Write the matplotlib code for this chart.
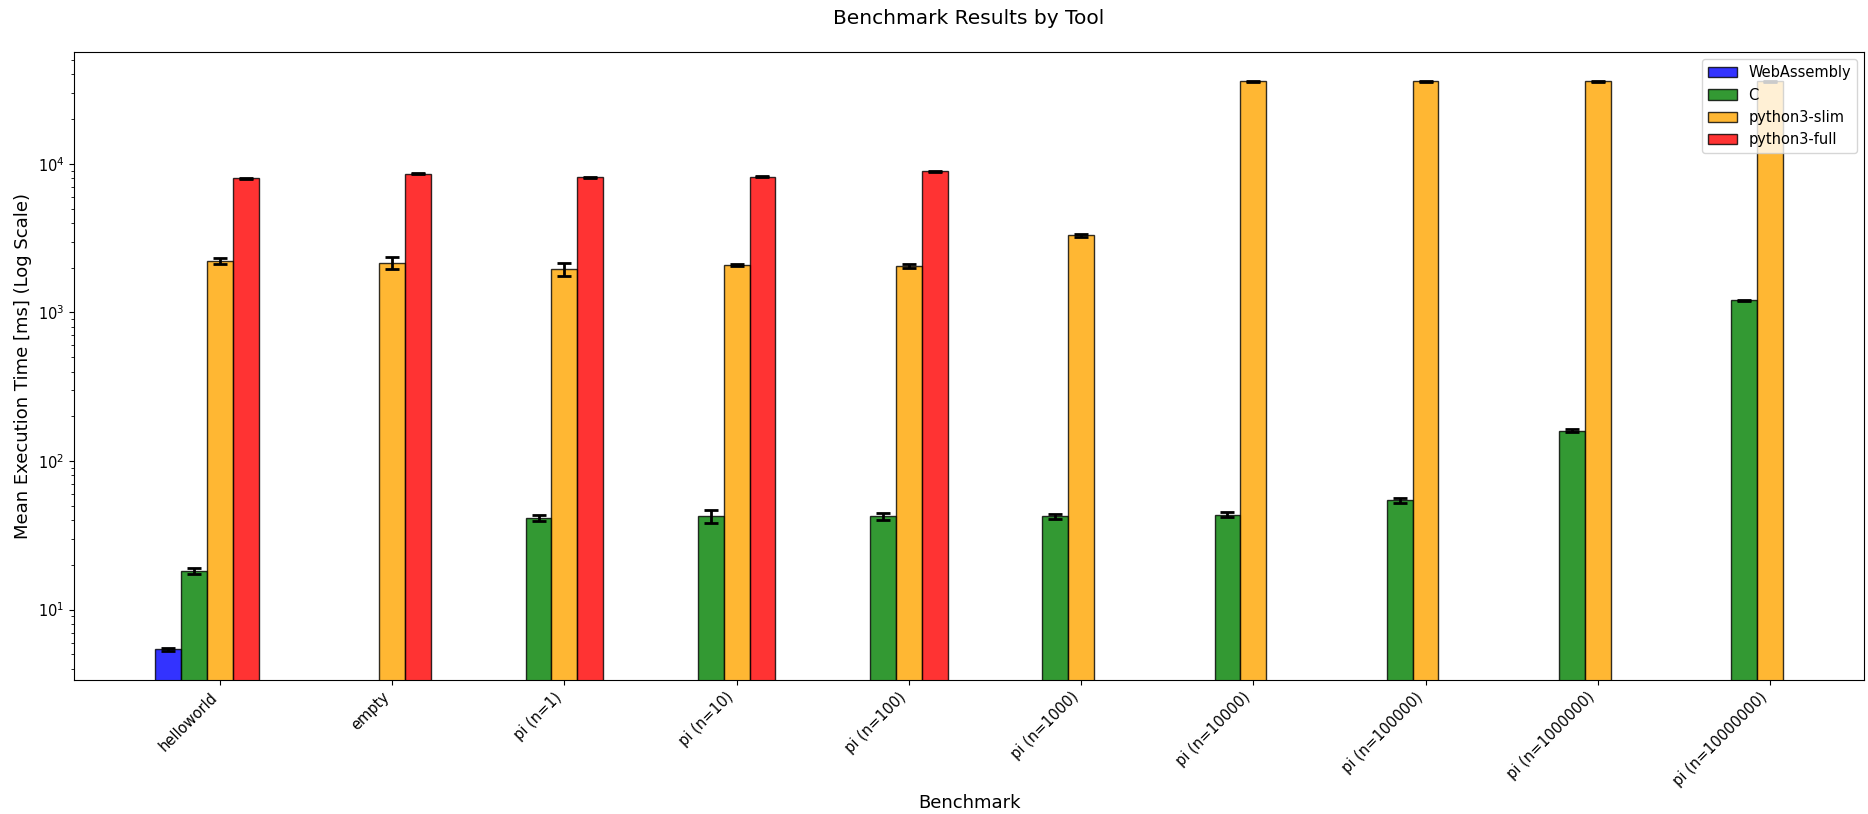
import numpy as np
import matplotlib.pyplot as plt

nan = np.nan

benchmarks = ['helloworld', 'empty', 'pi (n=1)', 'pi (n=10)', 'pi (n=100)',
              'pi (n=1000)', 'pi (n=10000)', 'pi (n=100000)', 'pi (n=1000000)',
              'pi (n=10000000)']
tools = ['WebAssembly', 'C', 'python3-slim', 'python3-full']
colors = ['blue', 'green', 'orange', 'red']

# mean execution time [ms] per tool, NaN where the tool has no run
wasm_mean = [5.4, nan, nan, nan, nan, nan, nan, nan, nan, nan]
c_mean = [18.2, nan, 41.5, 42.5, 42.5, 42.5, 43.5, 54.5, 160, 1210]
slim_mean = [2220, 2150, 1960, 2080, 2060, 3300, 36000, 36000, 36000, 36000]
full_mean = [8000, 8600, 8100, 8200, 8900, nan, nan, nan, nan, nan]

wasm_std = [0.15, nan, nan, nan, nan, nan, nan, nan, nan, nan]
c_std = [0.9, nan, 1.8, 4.5, 2.2, 1.8, 1.8, 2.2, 3.0, 8]
slim_std = [90, 200, 190, 40, 60, 70, 300, 300, 300, 300]
full_std = [70, 80, 60, 80, 70, nan, nan, nan, nan, nan]

means = [wasm_mean, c_mean, slim_mean, full_mean]
stds = [wasm_std, c_std, slim_std, full_std]

fig, ax = plt.subplots(figsize=(18.68, 8.14), dpi=100)
x = np.arange(len(benchmarks))
width = 0.15

for i in range(len(tools)):
    ax.bar(x + (i - 2) * width, means[i], width, yerr=stds[i], label=tools[i],
           color=colors[i], alpha=0.8, edgecolor='black', capsize=5,
           error_kw=dict(elinewidth=2, capthick=2))

ax.set_yscale('log')
ax.set_xticks(x)
ax.set_xticklabels(benchmarks, rotation=45, ha='right', fontsize=10.5)
ax.tick_params(axis='y', labelsize=10.5)
ax.set_xlabel('Benchmark', fontsize=13)
ax.set_ylabel('Mean Execution Time [ms] (Log Scale)', fontsize=13)
ax.set_title('Benchmark Results by Tool', fontsize=14.5, pad=20)
ax.legend(loc='upper right', fontsize=10.5)

plt.subplots_adjust(left=0.0396, right=0.998, top=0.936, bottom=0.165)
plt.savefig('out.png', dpi=100)
